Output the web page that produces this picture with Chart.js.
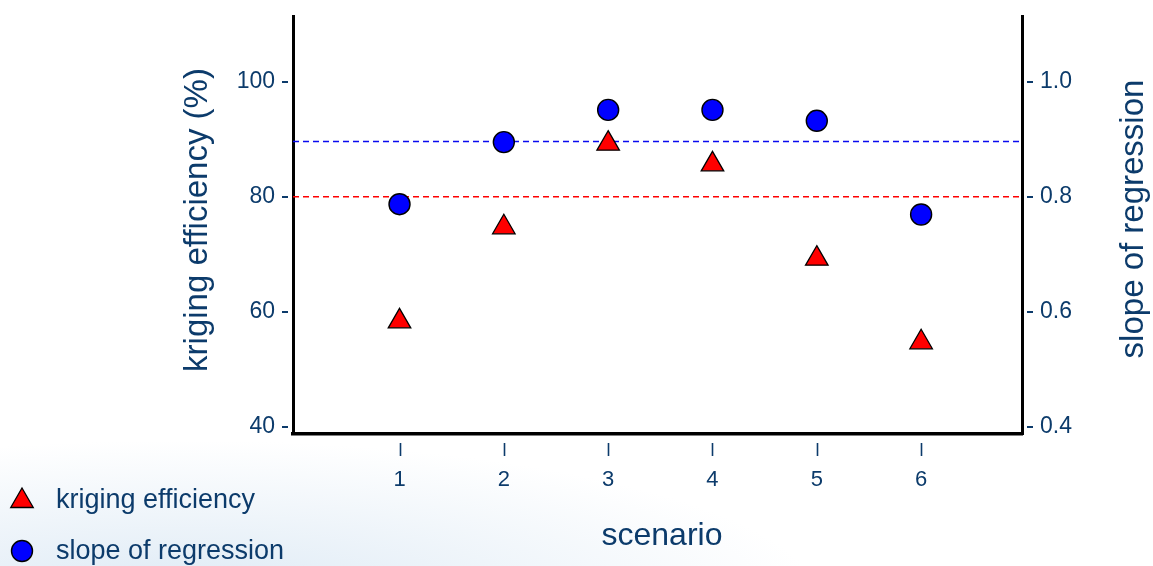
<!DOCTYPE html>
<html>
<head>
<meta charset="utf-8">
<script src="https://cdn.jsdelivr.net/npm/chart.js@4.4.1/dist/chart.umd.min.js"></script>
<style>
  html, body { margin: 0; padding: 0; }
  body {
    width: 1153px; height: 566px; overflow: hidden;
    background:
      radial-gradient(ellipse 640px 160px at 180px 600px, rgba(212,228,242,0.8), rgba(255,255,255,0) 100%),
      #ffffff;
  }
  #wrap { position: relative; width: 1153px; height: 566px; }
</style>
</head>
<body>
<div id="wrap"><canvas id="chart" width="1153" height="566"></canvas></div>
<script>
// Scenario results: kriging efficiency (left axis, %) and slope of regression (right axis)
const scenarios = [1, 2, 3, 4, 5, 6];
const krigingEfficiency = [58.33, 74.68, 89.22, 85.63, 69.22, 54.68];
const slopeOfRegression = [0.787, 0.895, 0.951, 0.951, 0.932, 0.769];

// Reference levels drawn as dashed lines
const efficiencyReference = 80;
const slopeReference = 0.896;

// Tick labels
const scenarioTicks = [1, 2, 3, 4, 5, 6];
const efficiencyTicks = [40, 60, 80, 100];
const slopeTicks = [0.4, 0.6, 0.8, 1.0];

const NAVY = '#0c3b6b';
const FONT = '"Liberation Sans", Arial, Helvetica, sans-serif';

const xMin = -0.021, xMax = 6.967;
const effMin = 38.73, effMax = 111.43;
const slopeMin = 0.3873, slopeMax = 1.1143;

const efficiencyPoints = scenarios.map((s, i) => ({ x: s, y: krigingEfficiency[i] }));
const slopePoints = scenarios.map((s, i) => ({ x: s, y: slopeOfRegression[i] }));

function fixedTicks(values) {
  return function (scale) { scale.ticks = values.map(v => ({ value: v })); };
}

function fitVertical(width) {
  return function (scale) {
    scale.width = width;
    scale.paddingTop = 0;
    scale.paddingBottom = 0;
  };
}

// Detached tick marks, rotated axis titles and the stacked legend
const decorations = {
  id: 'decorations',
  afterDraw(chart) {
    const ctx = chart.ctx;
    const area = chart.chartArea;
    const sx = chart.scales.x, sy = chart.scales.y, sy2 = chart.scales.y2;
    ctx.save();
    ctx.strokeStyle = NAVY;
    ctx.lineWidth = 2;
    ctx.beginPath();
    efficiencyTicks.forEach(v => {
      const y = Math.round(sy.getPixelForValue(v));
      ctx.moveTo(area.left - 11, y); ctx.lineTo(area.left - 5, y);
    });
    slopeTicks.forEach(v => {
      const y = Math.round(sy2.getPixelForValue(v));
      ctx.moveTo(area.right + 5, y); ctx.lineTo(area.right + 11, y);
    });
    ctx.stroke();
    ctx.lineWidth = 1.6;
    ctx.beginPath();
    scenarioTicks.forEach(v => {
      const x = Math.round(sx.getPixelForValue(v)) + 0.5;
      ctx.moveTo(x, area.bottom + 9); ctx.lineTo(x, area.bottom + 22);
    });
    ctx.stroke();

    // axis titles
    ctx.fillStyle = NAVY;
    ctx.font = '33px ' + FONT;
    ctx.textAlign = 'center';
    ctx.textBaseline = 'middle';
    ctx.save();
    ctx.translate(198, 220);
    ctx.rotate(-Math.PI / 2);
    ctx.fillText('kriging efficiency (%)', 0, 0);
    ctx.restore();
    ctx.save();
    ctx.translate(1134, 219);
    ctx.rotate(-Math.PI / 2);
    ctx.fillText('slope of regression', 0, 0);
    ctx.restore();
    ctx.font = '32px ' + FONT;
    ctx.fillText('scenario', 662, 536);

    // legend
    const items = chart.data.datasets.filter(d => d.showInKey);
    items.forEach((d, i) => {
      const cx = 22, cy = 499 + i * 51;
      ctx.fillStyle = d.backgroundColor;
      ctx.strokeStyle = d.borderColor;
      ctx.lineWidth = d.borderWidth;
      ctx.beginPath();
      if (d.pointStyle === 'triangle') {
        const r = d.pointRadius;
        const ty = cy + 2;
        for (let k = 0; k < 3; k++) {
          const a = k * 2 * Math.PI / 3;
          const px = cx + Math.sin(a) * r, py = ty - Math.cos(a) * r;
          if (k === 0) ctx.moveTo(px, py); else ctx.lineTo(px, py);
        }
        ctx.closePath();
      } else {
        ctx.arc(cx, cy + 1, d.pointRadius, 0, Math.PI * 2);
      }
      ctx.fill();
      ctx.stroke();
      ctx.fillStyle = NAVY;
      ctx.font = '27px ' + FONT;
      ctx.textAlign = 'left';
      ctx.textBaseline = 'middle';
      ctx.fillText(d.label, 56, cy + 2);
    });
    ctx.restore();
  }
};

new Chart(document.getElementById('chart'), {
  type: 'scatter',
  data: {
    datasets: [
      {
        label: 'kriging efficiency',
        showInKey: true,
        data: efficiencyPoints,
        yAxisID: 'y',
        pointStyle: 'triangle',
        pointRadius: 13,
        pointHoverRadius: 13,
        backgroundColor: '#ff0000',
        borderColor: '#000000',
        borderWidth: 1.3,
        order: 1
      },
      {
        label: 'slope of regression',
        showInKey: true,
        data: slopePoints,
        yAxisID: 'y2',
        pointStyle: 'circle',
        pointRadius: 10.5,
        pointHoverRadius: 10.5,
        backgroundColor: '#0000ff',
        borderColor: '#000000',
        borderWidth: 1.4,
        order: 1
      },
      {
        type: 'line',
        label: 'efficiency reference',
        data: [{ x: xMin, y: efficiencyReference }, { x: xMax, y: efficiencyReference }],
        yAxisID: 'y',
        borderColor: '#ff0000',
        borderWidth: 1.6,
        borderDash: [6, 4],
        pointRadius: 0,
        fill: false,
        order: 2
      },
      {
        type: 'line',
        label: 'slope reference',
        data: [{ x: xMin, y: slopeReference }, { x: xMax, y: slopeReference }],
        yAxisID: 'y2',
        borderColor: '#0a0af0',
        borderWidth: 1.6,
        borderDash: [6, 4],
        pointRadius: 0,
        fill: false,
        order: 2
      }
    ]
  },
  options: {
    responsive: false,
    animation: false,
    events: [],
    layout: { padding: { top: 16, left: 0, right: 0, bottom: 0 } },
    plugins: { legend: { display: false }, tooltip: { enabled: false } },
    scales: {
      x: {
        type: 'linear',
        position: 'bottom',
        min: xMin, max: xMax,
        afterBuildTicks: fixedTicks(scenarioTicks),
        afterFit(scale) { scale.height = 566 - 434; scale.paddingLeft = 0; scale.paddingRight = 0; },
        grid: { display: false, drawTicks: false },
        border: { display: true, color: '#000000', width: 3.5 },
        ticks: { color: NAVY, font: { family: FONT, size: 22 }, padding: 33, maxRotation: 0 }
      },
      y: {
        type: 'linear',
        position: 'left',
        min: effMin, max: effMax,
        afterBuildTicks: fixedTicks(efficiencyTicks),
        afterFit: fitVertical(293),
        grid: { display: false, drawTicks: false },
        border: { display: true, color: '#000000', width: 3 },
        ticks: { color: NAVY, font: { family: FONT, size: 23 }, padding: 18 }
      },
      y2: {
        type: 'linear',
        position: 'right',
        min: slopeMin, max: slopeMax,
        afterBuildTicks: fixedTicks(slopeTicks),
        afterFit: fitVertical(1153 - 1022),
        grid: { display: false, drawTicks: false },
        border: { display: true, color: '#000000', width: 3 },
        ticks: {
          color: NAVY, font: { family: FONT, size: 23 }, padding: 18,
          callback: v => Number(v).toFixed(1)
        }
      }
    }
  },
  plugins: [decorations]
});
</script>
</body>
</html>
